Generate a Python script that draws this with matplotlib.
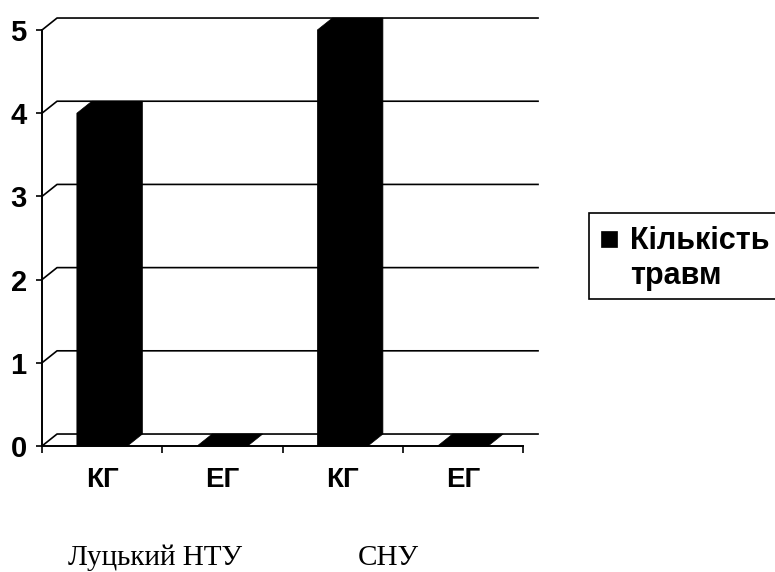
import matplotlib.pyplot as plt
from matplotlib.patches import Rectangle
from matplotlib.transforms import blended_transform_factory

# data
categories = ["КГ", "ЕГ", "КГ", "ЕГ"]
injuries = [4, 0, 5, 0]
groups = ["Луцький НТУ", "СНУ"]
group_pos = [0.94, 2.88]
y_ticks = [0, 1, 2, 3, 4, 5]
series_name = "Кількість\nтравм"

W, H = 775, 572
fig = plt.figure(figsize=(W / 100, H / 100), dpi=100)
ax = fig.add_axes([42 / W, 126 / H, 481 / W, 416 / H])


def fx(x):
    return x / W


def fy(y):
    return 1 - y / H


# 3d look: depth offset of the back wall, in data units
dx, dy = 0.125, 0.144
bar_w = 0.42

ax.set_xlim(0, len(categories))
ax.set_ylim(0, max(y_ticks))

# back wall gridlines with the slanted link to the front axis
for v in y_ticks:
    ax.plot([0, dx, len(categories) + dx], [v, v + dy, v + dy],
            color="black", lw=1.2, zorder=1, clip_on=False)

# 3d bars
for i, v in enumerate(injuries):
    x0 = i + 0.5 - bar_w / 2
    x1 = i + 0.5 + bar_w / 2
    xs = [x0, x0, x0 + dx, x1 + dx, x1 + dx, x1]
    ys = [0, v, v + dy, v + dy, dy, 0]
    ax.fill(xs, ys, color="black", lw=0.5, zorder=3, clip_on=False)

for s in ["top", "right"]:
    ax.spines[s].set_visible(False)
for s in ["left", "bottom"]:
    ax.spines[s].set_linewidth(1.4)
    ax.spines[s].set_zorder(4)

ax.set_yticks(y_ticks)
ax.set_yticklabels([str(t) for t in y_ticks],
                   fontdict={"family": "Liberation Sans", "weight": "bold", "size": 21})
ax.tick_params(axis="y", length=4, width=1.2, pad=7)

ax.set_xticks(range(len(categories) + 1))
ax.set_xticklabels([])
ax.tick_params(axis="x", which="major", length=5, width=1.2)
ax.set_xticks([i + 0.5 for i in range(len(categories))], minor=True)
ax.set_xticklabels(categories, minor=True,
                   fontdict={"family": "Liberation Sans", "weight": "bold", "size": 20})
ax.tick_params(axis="x", which="minor", length=0, pad=15)

# group labels under the categories
tr = blended_transform_factory(ax.transData, fig.transFigure)
for name, p in zip(groups, group_pos):
    ax.text(p, fy(565), name, transform=tr,
            ha="center", va="baseline", family="Liberation Serif", size=21)

# legend box, cut by the right edge as in the original
fig.add_artist(Rectangle((fx(589), fy(299)), fx(800) - fx(589), fy(213) - fy(299),
                         transform=fig.transFigure, facecolor="white",
                         edgecolor="black", lw=1.2, clip_on=False))
fig.add_artist(Rectangle((fx(601), fy(247)), fx(16), fx(16) * W / H,
                         transform=fig.transFigure, facecolor="black",
                         edgecolor="black", lw=0.5))
fig.text(fx(630), fy(226), series_name, ha="left", va="top",
         family="Liberation Sans", weight="bold", size=22, linespacing=1.2)

fig.savefig("out.png", dpi=100)
